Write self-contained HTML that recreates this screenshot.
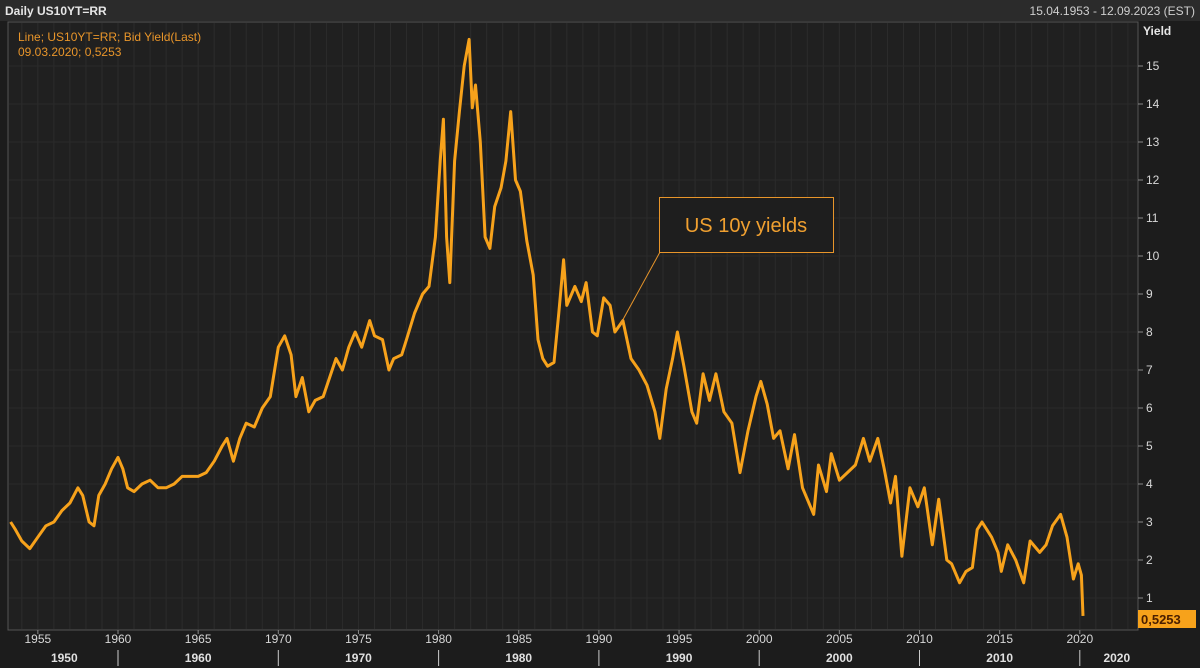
<!DOCTYPE html>
<html><head><meta charset="utf-8"><style>
html,body{margin:0;padding:0;background:#1c1c1c;}
svg{display:block;font-family:"Liberation Sans",sans-serif;}
</style></head><body>
<svg id="chart" width="1200" height="668" viewBox="0 0 1200 668" xmlns="http://www.w3.org/2000/svg">
<rect x="0" y="0" width="1200" height="668" fill="#1c1c1c"/>
<rect x="0" y="0" width="1200" height="21" fill="#2b2b2b"/>
<text x="5" y="15" fill="#e6e6e6" font-size="12" font-weight="bold">Daily US10YT=RR</text>
<text x="1195" y="15" fill="#cfcfcf" font-size="12" text-anchor="end">15.04.1953 - 12.09.2023 (EST)</text>
<rect x="8" y="22" width="1130" height="608" fill="#202020" stroke="#555" stroke-width="1"/>
<g id="grid"></g>
<g id="axes"></g>
<text x="18" y="41" fill="#e8952a" font-size="12">Line; US10YT=RR; Bid Yield(Last)</text>
<text x="18" y="56" fill="#e8952a" font-size="12">09.03.2020; 0,5253</text>
<text x="1143" y="35" fill="#e6e6e6" font-size="12" font-weight="bold">Yield</text>
<path id="line" fill="none" stroke="#f7a21b" stroke-width="3" stroke-linejoin="round"/>
<line x1="660" y1="252" x2="620" y2="325" stroke="#e8952a" stroke-width="1"/>
<rect x="659.5" y="197.5" width="174" height="55" fill="#1e1e1e" stroke="#e8952a" stroke-width="1"/>
<text x="746" y="232" fill="#f0a030" font-size="20" text-anchor="middle">US 10y yields</text>
<rect x="1138" y="610" width="58" height="18" fill="#f7a21b"/>
<text x="1141" y="624" fill="#4a1f00" font-size="13" font-weight="bold">0,5253</text>
</svg>
<script>
const yTicks = [1,2,3,4,5,6,7,8,9,10,11,12,13,14,15];
const xYearTicks = [1955,1960,1965,1970,1975,1980,1985,1990,1995,2000,2005,2010,2015,2020];
const xDecades = [1950,1960,1970,1980,1990,2000,2010,2020];
const dates = [1953.3,1953.6,1954.0,1954.5,1955,1955.5,1956,1956.5,1957,1957.5,1957.8,1958.2,1958.5,1958.8,1959.2,1959.6,1960.0,1960.3,1960.6,1961,1961.5,1962,1962.5,1963,1963.5,1964,1964.5,1965,1965.5,1966,1966.5,1966.8,1967.2,1967.6,1968,1968.5,1969,1969.5,1970,1970.4,1970.8,1971.1,1971.5,1971.9,1972.3,1972.8,1973.2,1973.6,1974,1974.4,1974.8,1975.2,1975.7,1976,1976.5,1976.9,1977.2,1977.7,1978,1978.5,1979,1979.4,1979.8,1980.1,1980.3,1980.5,1980.7,1981,1981.3,1981.6,1981.9,1982.1,1982.3,1982.6,1982.9,1983.2,1983.5,1983.9,1984.2,1984.5,1984.8,1985.1,1985.5,1985.9,1986.2,1986.5,1986.8,1987.2,1987.5,1987.8,1988,1988.5,1988.9,1989.2,1989.6,1989.9,1990.3,1990.7,1991,1991.5,1992,1992.5,1993,1993.5,1993.8,1994.2,1994.6,1994.9,1995.3,1995.8,1996.1,1996.5,1996.9,1997.3,1997.8,1998.3,1998.8,1999.3,1999.8,2000.1,2000.5,2000.9,2001.3,2001.8,2002.2,2002.7,2003.4,2003.7,2004.2,2004.5,2005,2005.5,2006,2006.5,2006.9,2007.4,2007.8,2008.2,2008.5,2008.9,2009.4,2009.9,2010.3,2010.8,2011.2,2011.7,2012.0,2012.5,2012.9,2013.3,2013.6,2013.9,2014.5,2014.9,2015.1,2015.5,2016,2016.5,2016.9,2017.5,2017.9,2018.3,2018.8,2019.2,2019.6,2019.9,2020.1,2020.2];
const yields = [3.0,2.8,2.5,2.3,2.6,2.9,3.0,3.3,3.5,3.9,3.7,3.0,2.9,3.7,4.0,4.4,4.7,4.4,3.9,3.8,4.0,4.1,3.9,3.9,4.0,4.2,4.2,4.2,4.3,4.6,5.0,5.2,4.6,5.2,5.6,5.5,6.0,6.3,7.6,7.9,7.4,6.3,6.8,5.9,6.2,6.3,6.8,7.3,7.0,7.6,8.0,7.6,8.3,7.9,7.8,7.0,7.3,7.4,7.8,8.5,9.0,9.2,10.5,12.5,13.6,10.5,9.3,12.5,13.8,15.0,15.7,13.9,14.5,13.0,10.5,10.2,11.3,11.8,12.5,13.8,12.0,11.7,10.4,9.5,7.8,7.3,7.1,7.2,8.5,9.9,8.7,9.2,8.8,9.3,8.0,7.9,8.9,8.7,8.0,8.3,7.3,7.0,6.6,5.9,5.2,6.5,7.3,8.0,7.1,5.9,5.6,6.9,6.2,6.9,5.9,5.6,4.3,5.4,6.3,6.7,6.1,5.2,5.4,4.4,5.3,3.9,3.2,4.5,3.8,4.8,4.1,4.3,4.5,5.2,4.6,5.2,4.4,3.5,4.2,2.1,3.9,3.4,3.9,2.4,3.6,2.0,1.9,1.4,1.7,1.8,2.8,3.0,2.6,2.2,1.7,2.4,2.0,1.4,2.5,2.2,2.4,2.9,3.2,2.6,1.5,1.9,1.6,0.53];
const X = yr => 118 + (yr - 1960) * 16.03;
const Y = v => 598 - (v - 1) * 38;
const NS = "http://www.w3.org/2000/svg";
const grid = document.getElementById('grid');
const axes = document.getElementById('axes');
function mk(tag, attrs, parent){const e=document.createElementNS(NS,tag);for(const k in attrs)e.setAttribute(k,attrs[k]);parent.appendChild(e);return e;}
for(let yr=1954; yr<=2023; yr++){
  const l=mk('line',{x1:X(yr),x2:X(yr),y1:23,y2:629,stroke:'#2c2c2c','stroke-width':1},grid);
  
  
}
yTicks.forEach(v=>{
  const l=mk('line',{x1:9,x2:1137,y1:Y(v),y2:Y(v),stroke:'#2a2a2a','stroke-width':1},grid);
  
  
  const t=mk('line',{x1:1138,x2:1143,y1:Y(v),y2:Y(v),stroke:'#888'},axes);
  
  
  const tx=mk('text',{x:1146,y:Y(v)+4,fill:'#d8d8d8','font-size':12},axes);
  tx.textContent=v;
  
  
});
xYearTicks.forEach(yr=>{
  const t=mk('line',{x1:X(yr),x2:X(yr),y1:630,y2:634,stroke:'#888'},axes);
  
  
  const tx=mk('text',{x:X(yr),y:643,fill:'#d8d8d8','font-size':12,'text-anchor':'middle'},axes);
  tx.textContent=yr;
  
  
});
xDecades.forEach(d=>{
  if(d>1950){
    const s=mk('line',{x1:X(d),x2:X(d),y1:650,y2:666,stroke:'#ccc'},axes);
    
    
  }
  const cx = d===1950 ? X(1953.3)+ (X(1960)-X(1953.3))/2 : (d===2020 ? X(2020)+ 37 : X(d+5));
  const tx=mk('text',{x:cx,y:662,fill:'#e0e0e0','font-size':12,'font-weight':'bold','text-anchor':'middle'},axes);
  tx.textContent=d;
  
  
});
let d='';
dates.forEach((yr,i)=>{d+=(i?'L':'M')+X(yr).toFixed(1)+' '+Y(yields[i]).toFixed(1);});
document.getElementById('line').setAttribute('d',d);
</script>
</body></html>
